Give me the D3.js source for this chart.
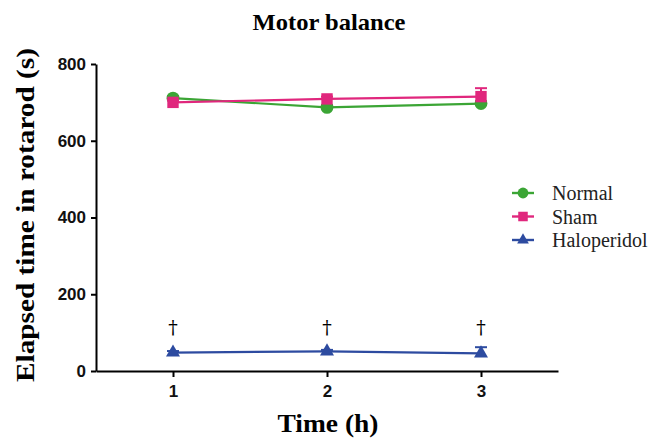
<!DOCTYPE html>
<html>
<head>
<meta charset="utf-8">
<script src="https://cdn.jsdelivr.net/npm/d3@7"></script>
<style>
  body { margin: 0; background: #fff; }
</style>
</head>
<body>
<div id="viz"></div>
<script>
const width = 653;
const height = 439;

// data
const hours = [1, 2, 3];
const normalMean = [711, 687, 697];
const normalErr = [6, 6, 6];
const shamMean = [700, 709, 715];
const shamErr = [6, 6, 22];
const haloMean = [48, 51, 46];
const haloErr = [4, 4, 16];
const yTicks = [0, 200, 400, 600, 800];

const series = [
  { label: 'Normal', color: '#3ba535', shape: d3.symbolCircle, size: 130, mean: normalMean, err: normalErr },
  { label: 'Sham', color: '#e0277d', shape: d3.symbolSquare, size: 130, mean: shamMean, err: shamErr },
  { label: 'Haloperidol', color: '#2d4ba0', shape: d3.symbolTriangle, size: 85, mean: haloMean, err: haloErr, dagger: true }
];

const serif = '"Liberation Serif", "Times New Roman", serif';
const sans = '"Liberation Sans", Arial, sans-serif';

const scaleX = d3.scaleLinear().domain([0.5, 3.5]).range([96, 558]);
const scaleY = d3.scaleLinear().domain([0, 800]).range([371, 64]);

const svg = d3.select('#viz')
  .append('svg')
    .attr('width', width)
    .attr('height', height);

// title
svg.append('text')
  .attr('x', 329)
  .attr('y', 30)
  .attr('text-anchor', 'middle')
  .attr('textLength', 153)
  .attr('lengthAdjust', 'spacingAndGlyphs')
  .style('font-family', serif)
  .style('font-weight', 700)
  .style('font-size', '23px')
  .text('Motor balance');

// axes
const styleAxis = g => {
  g.select('.domain').attr('stroke-width', 2);
  g.selectAll('.tick line').attr('stroke-width', 2);
  g.selectAll('text')
    .style('font-family', sans)
    .style('font-weight', 700)
    .style('font-size', '17px')
    .attr('fill', '#111');
};

const axisBottom = d3.axisBottom(scaleX)
  .tickValues(hours)
  .tickFormat(d3.format('d'))
  .tickSize(6)
  .tickSizeOuter(0)
  .tickPadding(8);
svg.append('g')
  .attr('transform', `translate(0,${scaleY(0)})`)
  .call(axisBottom)
  .call(styleAxis);

const axisLeft = d3.axisLeft(scaleY)
  .tickValues(yTicks)
  .tickSize(5)
  .tickSizeOuter(0)
  .tickPadding(5);
svg.append('g')
  .attr('transform', `translate(${scaleX(0.5)},0)`)
  .call(axisLeft)
  .call(styleAxis);

// axis labels
svg.append('text')
  .attr('x', 328)
  .attr('y', 432)
  .attr('text-anchor', 'middle')
  .attr('textLength', 101)
  .attr('lengthAdjust', 'spacingAndGlyphs')
  .style('font-family', serif)
  .style('font-weight', 700)
  .style('font-size', '26px')
  .text('Time (h)');

svg.append('text')
  .attr('transform', 'translate(34,215) rotate(-90)')
  .attr('text-anchor', 'middle')
  .attr('textLength', 334)
  .attr('lengthAdjust', 'spacingAndGlyphs')
  .style('font-family', serif)
  .style('font-weight', 700)
  .style('font-size', '25px')
  .text('Elapsed time in rotarod (s)');

// lines, error bars, markers
const line = d3.line()
  .x((d, i) => scaleX(hours[i]))
  .y(d => scaleY(d));

series.forEach(s => {
  const g = svg.append('g').attr('class', 'series');
  g.append('path')
    .attr('d', line(s.mean))
    .attr('fill', 'none')
    .attr('stroke', s.color)
    .attr('stroke-width', 2.2);

  const bars = g.selectAll('.err')
    .data(hours)
    .join('g')
      .attr('class', 'err');
  bars.append('line')
    .attr('x1', d => scaleX(d))
    .attr('x2', d => scaleX(d))
    .attr('y1', (d, i) => scaleY(s.mean[i]))
    .attr('y2', (d, i) => scaleY(s.mean[i] + s.err[i]))
    .attr('stroke', s.color)
    .attr('stroke-width', 2);
  bars.append('line')
    .attr('x1', d => scaleX(d) - 6)
    .attr('x2', d => scaleX(d) + 6)
    .attr('y1', (d, i) => scaleY(s.mean[i] + s.err[i]))
    .attr('y2', (d, i) => scaleY(s.mean[i] + s.err[i]))
    .attr('stroke', s.color)
    .attr('stroke-width', 2);

  g.selectAll('.mark')
    .data(hours)
    .join('path')
      .attr('class', 'mark')
      .attr('transform', (d, i) => `translate(${scaleX(d)},${scaleY(s.mean[i])})`)
      .attr('d', d3.symbol().type(s.shape).size(s.size))
      .attr('fill', s.color);

  if (s.dagger) {
    g.selectAll('.dagger')
      .data(hours)
      .join('text')
        .attr('class', 'dagger')
        .attr('x', d => scaleX(d))
        .attr('y', 334)
        .attr('text-anchor', 'middle')
        .style('font-family', '"DejaVu Serif", serif')
        .style('font-size', '19px')
        .attr('fill', '#000')
        .text('†');
  }
});

// legend
const legend = svg.append('g')
  .attr('class', 'legend')
  .selectAll('g')
  .data(series)
  .join('g')
    .attr('transform', (d, i) => `translate(523,${193 + i * 23.5})`);
legend.append('line')
  .attr('x1', -11)
  .attr('x2', 11)
  .attr('stroke', d => d.color)
  .attr('stroke-width', 2.4);
legend.append('path')
  .attr('d', d => d3.symbol().type(d.shape).size(d.size * 0.7)())
  .attr('fill', d => d.color);
legend.append('text')
  .attr('x', 29)
  .attr('y', 7)
  .style('font-family', serif)
  .style('font-size', '20px')
  .attr('fill', '#222')
  .text(d => d.label);
</script>
</body>
</html>
